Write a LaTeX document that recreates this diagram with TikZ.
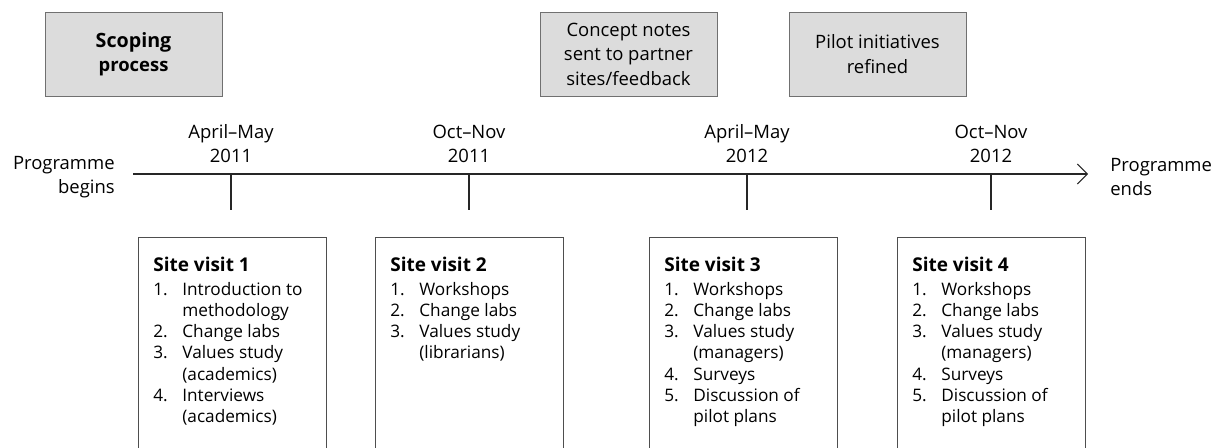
\documentclass[tikz,border=0pt]{standalone}
\usepackage{fontspec}
\setmainfont{Open Sans}
\usetikzlibrary{positioning,arrows.meta}
\definecolor{boxgray}{HTML}{DCDCDC}
\definecolor{edgegray}{HTML}{707070}
\tikzset{
  phase/.style={draw=edgegray, fill=boxgray, minimum height=1.68cm, align=center, font=\fontsize{10.5}{13.9}\selectfont},
  visit/.style={draw=edgegray!70!black, anchor=north west, inner xsep=0.3cm, inner ysep=0.38cm, font=\fontsize{9.8}{12}\selectfont},
  datelbl/.style={align=center, inner sep=0pt, font=\fontsize{10.5}{13.7}\selectfont},
  endlbl/.style={inner sep=0pt, yshift=-0.06cm, font=\fontsize{10.5}{13.5}\selectfont},
  tickline/.style={draw=black!85, line width=0.6pt}
}
\newcommand{\visittitle}[1]{\multicolumn{2}{@{}l@{}}{\fontsize{10.8}{12}\selectfont\bfseries #1}\\[2pt]}
\begin{document}
\begin{tikzpicture}[x=0.02cm, y=-0.02cm]
\useasboundingbox (0,0) rectangle (1222,447);
        \node[phase, minimum width=3.54cm] (scope) at (133.5,54) {\fontsize{11.2}{13.9}\selectfont\bfseries Scoping\\\bfseries process};
        \node[phase, minimum width=3.54cm] (notes) at (628.5,54) {Concept notes\\sent to partner\\sites/feedback};
        \node[phase, minimum width=3.54cm] (pilot) at (877.5,54) {Pilot initiatives\\refined};
        \coordinate (start) at (133,174);
        \coordinate (stop) at (1088,174);
        \draw[tickline, -{Straight Barb[length=2mm, width=4mm]}] (start) -- (stop);
        \node[endlbl, align=right] (begins) [left=0.36cm of start] {Programme\\begins};
        \node[endlbl, align=left] (ends) [right=0.44cm of stop] {Programme\\ends};
        \foreach \x/\n in {231/1, 469/2, 747/3, 991/4} {
          \coordinate (k\n) at (\x,174);
          \coordinate (b\n) at (\x,210);
          \draw[tickline] (k\n) -- (b\n);
        }
        \node[datelbl] (d1) [above=0.22cm of k1] {April--May\\2011};
        \node[datelbl] (d2) [above=0.22cm of k2] {Oct--Nov\\2011};
        \node[datelbl] (d3) [above=0.22cm of k3] {April--May\\2012};
        \node[datelbl] (d4) [above=0.22cm of k4] {Oct--Nov\\2012};
        \node[visit] (v1) at (138,237) {\parbox[t][4.6cm][t]{3.16cm}{\begin{tabular}[t]{@{}p{0.58cm}@{}l@{}}
          \visittitle{Site visit 1}
          1. & Introduction to\\ & methodology\\ 2. & Change labs\\ 3. & Values study\\ & (academics)\\ 4. & Interviews\\ & (academics)
        \end{tabular}}};
        \node[visit] (v2) at (375,237) {\parbox[t][4.6cm][t]{3.16cm}{\begin{tabular}[t]{@{}p{0.58cm}@{}l@{}}
          \visittitle{Site visit 2}
          1. & Workshops\\ 2. & Change labs\\ 3. & Values study\\ & (librarians)
        \end{tabular}}};
        \node[visit] (v3) at (649,237) {\parbox[t][4.6cm][t]{3.16cm}{\begin{tabular}[t]{@{}p{0.58cm}@{}l@{}}
          \visittitle{Site visit 3}
          1. & Workshops\\ 2. & Change labs\\ 3. & Values study\\ & (managers)\\ 4. & Surveys\\ 5. & Discussion of\\ & pilot plans
        \end{tabular}}};
        \node[visit] (v4) at (897,237) {\parbox[t][4.6cm][t]{3.16cm}{\begin{tabular}[t]{@{}p{0.58cm}@{}l@{}}
          \visittitle{Site visit 4}
          1. & Workshops\\ 2. & Change labs\\ 3. & Values study\\ & (managers)\\ 4. & Surveys\\ 5. & Discussion of\\ & pilot plans
        \end{tabular}}};
\end{tikzpicture}
\end{document}
